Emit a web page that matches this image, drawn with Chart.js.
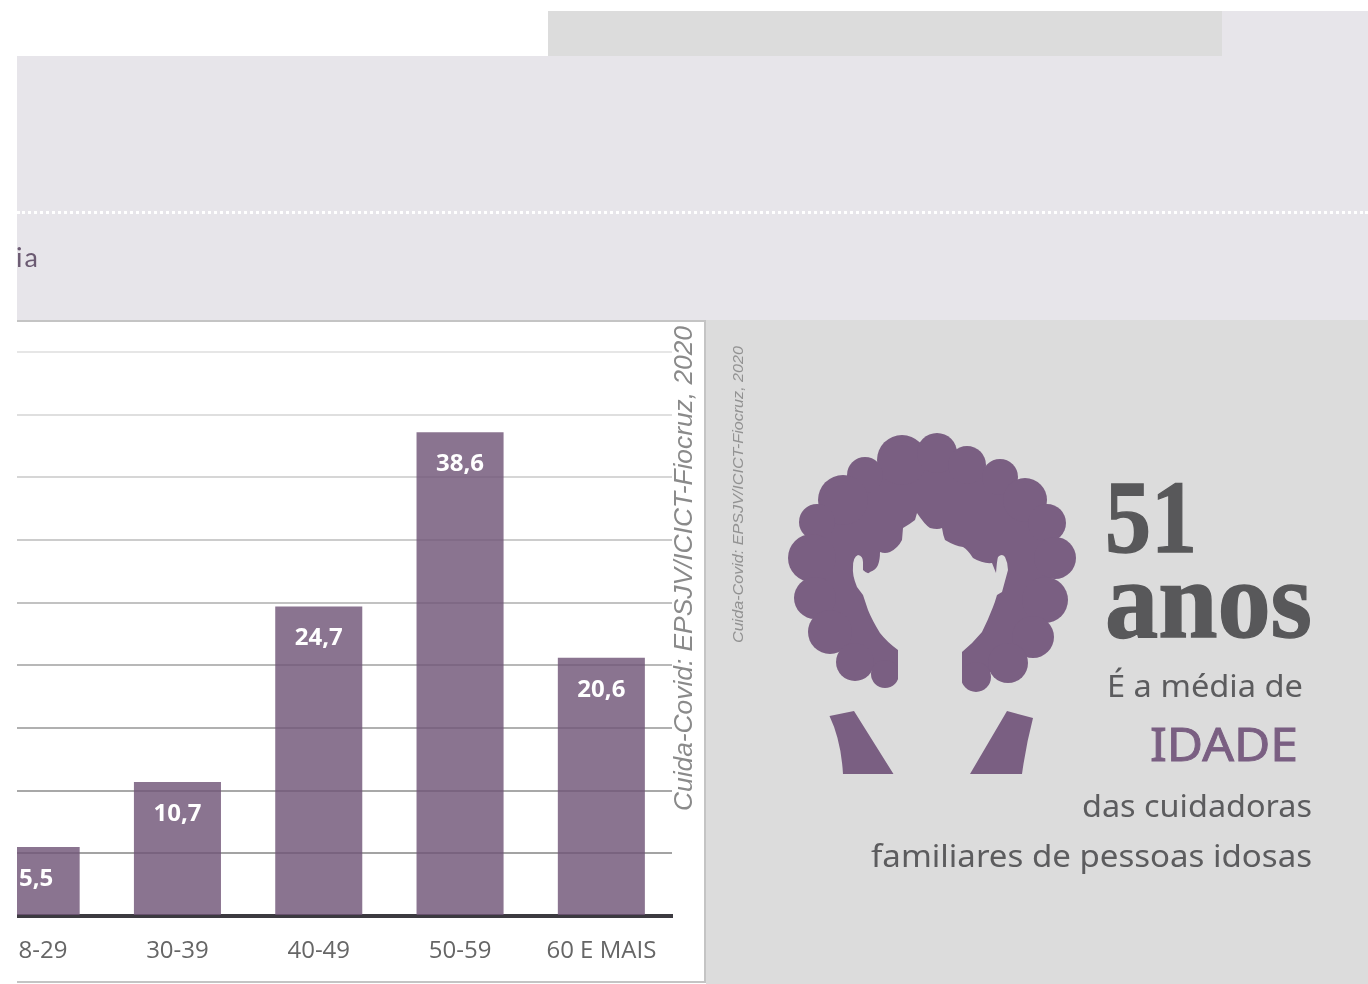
<!DOCTYPE html>
<html lang="pt">
<head>
<meta charset="utf-8">
<title>Idade das cuidadoras</title>
<script src="https://cdn.jsdelivr.net/npm/chart.js@4"></script>
<style>
html,body{margin:0;padding:0;width:1368px;height:984px;overflow:hidden;background:#fff}
.box{position:absolute}
#canvasWrap{position:absolute;left:-35px;top:322px;width:740px;height:660px}
svg{position:absolute;left:0;top:0}
</style>
</head>
<body>
<div class="box" style="left:548px;top:11px;width:674px;height:45px;background:#dcdcdc"></div>
<div class="box" style="left:1222px;top:11px;width:146px;height:45px;background:#e7e5ea"></div>
<div class="box" style="left:17px;top:56px;width:1351px;height:264px;background:#e7e5ea"></div>
<div class="box" style="left:17px;top:211px;width:1351px;height:0;border-top:3px dotted #fff"></div>
<div class="box" style="left:706px;top:320px;width:662px;height:664px;background:#dcdcdc"></div>
<div class="box" style="left:0;top:320px;width:706px;height:2px;background:#c4c4c4"></div>
<div class="box" style="left:704px;top:320px;width:2px;height:663px;background:#c4c4c4"></div>
<div class="box" style="left:0;top:981px;width:706px;height:2px;background:#c4c4c4"></div>
<div id="canvasWrap"><canvas id="chart"></canvas></div>
<div class="box" style="left:0;top:0;width:17px;height:984px;background:#fff"></div>
<svg width="1368" height="984" viewBox="0 0 1368 984">
  <defs><clipPath id="c"><rect x="17" y="240" width="60" height="40"/></clipPath></defs>
  <g clip-path="url(#c)"><text x="16" y="267" font-family="Lato" font-size="27" letter-spacing="2" fill="#6b5a72">ia</text></g>
  <g fill="#7a5f82">
    <polygon points="902,460 937,453 967,465 1000,477 1025,500 1047,523 1055,558 1045,600 1033,637 1008,663 978,678 883,675 855,662 830,632 815,598 812,558 817,522 843,500 865,475"/>
    <circle cx="902" cy="460" r="25"/><circle cx="937" cy="453" r="20"/><circle cx="967" cy="465" r="19"/>
    <circle cx="1000" cy="477" r="18"/><circle cx="1025" cy="500" r="22"/><circle cx="1047" cy="523" r="19"/>
    <circle cx="1055" cy="558" r="21"/><circle cx="1045" cy="600" r="23"/><circle cx="1033" cy="637" r="21"/>
    <circle cx="1008" cy="663" r="20"/><circle cx="976" cy="677" r="15"/>
    <circle cx="865" cy="475" r="18"/><circle cx="843" cy="500" r="25"/><circle cx="817" cy="522" r="18"/>
    <circle cx="812" cy="558" r="24"/><circle cx="815" cy="598" r="21"/><circle cx="830" cy="632" r="22"/>
    <circle cx="855" cy="662" r="19"/><circle cx="885" cy="674" r="14"/>
    <path d="M829.5,716 L854,711 L893.5,774 L843,774 Q841,740 829.5,716 Z"/>
    <path d="M1007,711 L1033,718 Q1026,745 1022,774 L970,774 Z"/>
  </g>
  <path fill="#dcdcdc" d="M898,700 L898,650 Q887,642 880,633 Q872,620 868,610 L863,595 L857,587 Q852,575 853,567 Q853,557 858,555 Q863,556 863,562 L863,570 Q868,575 870,572 Q876,570 878,565 Q880,560 880,552 Q885,554 890,552 Q898,548 902,540 L903,528 Q910,524 915,520 L917,513 Q925,525 930,528 Q938,530 942,528 Q943,535 945,540 Q955,546 963,547 Q968,550 973,558 Q983,564 992,563 Q994,568 996,573 Q997,560 998,557 Q1002,553 1005,557 Q1008,563 1008,570 L1002,592 L997,595 Q995,602 993,607 Q988,620 982,632 Q973,643 962,652 L962,700 Z"/>
  <g font-family="Liberation Sans" font-style="italic">
    <text transform="translate(692,811) rotate(-90)" font-size="25" fill="#8a8a8a" textLength="485" lengthAdjust="spacingAndGlyphs">Cuida-Covid: EPSJV/ICICT-Fiocruz, 2020</text>
    <text transform="translate(743,643) rotate(-90)" font-size="14.5" fill="#929292" textLength="297" lengthAdjust="spacingAndGlyphs">Cuida-Covid: EPSJV/ICICT-Fiocruz, 2020</text>
  </g>
  <g font-family="Liberation Serif" font-weight="bold" fill="#58585a" stroke="#58585a" stroke-width="1.4">
    <text x="1105" y="552" font-size="103" textLength="92" lengthAdjust="spacingAndGlyphs">51</text>
    <text x="1105" y="637" font-size="110" textLength="207" lengthAdjust="spacingAndGlyphs">anos</text>
  </g>
  <g font-family="Noto Sans" fill="#5c5c5e" font-size="31">
    <text x="1107" y="697" textLength="196" lengthAdjust="spacingAndGlyphs">É a média de</text>
    <text x="1082" y="817" textLength="230" lengthAdjust="spacingAndGlyphs">das cuidadoras</text>
    <text x="871" y="867" textLength="441" lengthAdjust="spacingAndGlyphs">familiares de pessoas idosas</text>
    <text x="1150" y="761" font-size="46" fill="#7a5f82" stroke="#7a5f82" stroke-width="0.9" textLength="148" lengthAdjust="spacingAndGlyphs">IDADE</text>
  </g>
</svg>
<script>
const categories = ['18-29', '30-39', '40-49', '50-59', '60 E MAIS'];
const shares = [5.5, 10.7, 24.7, 38.6, 20.6];
const valueLabels = ['5,5', '10,7', '24,7', '38,6', '20,6'];
const gridColors = ['#3c3a40', '#a3a3a3', '#a8a8a8', '#b0b0b0', '#b8b8b8', '#c2c2c2', '#cccccc', '#d6d6d6', '#dfdfdf', '#e6e6e6'];

const barLabels = {
  id: 'barLabels',
  afterDatasetsDraw(chart) {
    const { ctx } = chart;
    chart.getDatasetMeta(0).data.forEach((bar, i) => {
      ctx.save();
      ctx.font = 'bold 24px "Open Sans"';
      ctx.fillStyle = '#ffffff';
      ctx.textAlign = 'center';
      ctx.textBaseline = 'middle';
      ctx.fillText(valueLabels[i], bar.x, bar.y + 32);
      ctx.restore();
    });
  }
};

new Chart(document.getElementById('chart'), {
  type: 'bar',
  data: {
    labels: categories,
    datasets: [{
      data: shares,
      backgroundColor: 'rgba(112,86,120,0.82)',
      categoryPercentage: 1,
      barPercentage: 0.616
    }]
  },
  options: {
    responsive: true,
    maintainAspectRatio: false,
    animation: false,
    layout: { padding: { top: 30, right: 33, left: 0.5, bottom: 0 } },
    plugins: { legend: { display: false }, tooltip: { enabled: false } },
    scales: {
      x: {
        grid: { display: false },
        border: { color: '#3c3a40', width: 4 },
        ticks: { color: '#666666', font: { family: 'Open Sans', size: 24 }, padding: 13, maxRotation: 0, autoSkip: false },
        afterFit(scale) { scale.height = 66; }
      },
      y: {
        min: 0,
        max: 45,
        grid: {
          drawTicks: false,
          lineWidth: 2,
          color: (c) => gridColors[Math.round(c.tick.value / 5)]
        },
        border: { display: false },
        ticks: { display: false, stepSize: 5 },
        afterFit(scale) { scale.width = 0; }
      }
    }
  },
  plugins: [barLabels]
});
</script>
</body>
</html>
